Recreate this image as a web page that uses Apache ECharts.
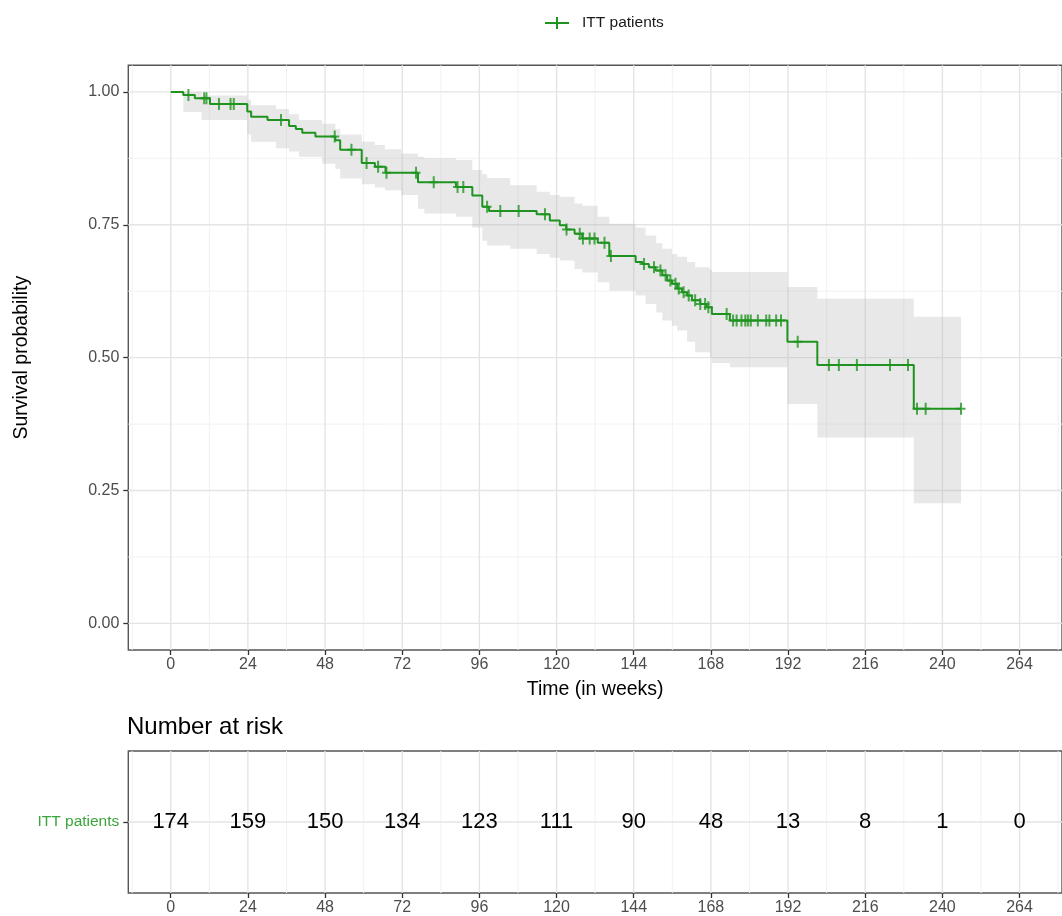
<!DOCTYPE html>
<html><head><meta charset="utf-8">
<script src="https://cdn.jsdelivr.net/npm/echarts/dist/echarts.min.js"></script>
<style>html,body{margin:0;padding:0;background:#fff}#c{width:1062px;height:916px}</style>
</head><body><div id="c"></div>
<script>
const seriesName = 'ITT patients';
// Kaplan-Meier step curve (time in weeks, survival after the step)
const stepTimes = [0, 3.9, 7.5, 12.2, 23.8, 25.0, 30.1, 36.8, 38.9, 40.9, 45.0, 51.2, 52.7, 59.4, 63.5, 66.8, 76.9, 88.7, 93.8, 96.9, 99.0, 113.8, 117.9, 121.0, 123.0, 125.6, 128.0, 132.8, 136.4, 144.6, 146.7, 148.7, 150.8, 152.9, 154.4, 155.9, 157.5, 159.0, 160.6, 162.1, 164.7, 166.7, 168.3, 173.9, 191.8, 201.1, 231.1, 245.8];
const stepSurv  = [1.0, 0.994, 0.988, 0.977, 0.963, 0.953, 0.947, 0.936, 0.930, 0.923, 0.916, 0.909, 0.891, 0.866, 0.859, 0.848, 0.830, 0.821, 0.805, 0.784, 0.776, 0.770, 0.758, 0.749, 0.741, 0.733, 0.724, 0.716, 0.691, 0.680, 0.676, 0.670, 0.664, 0.655, 0.645, 0.639, 0.630, 0.623, 0.617, 0.608, 0.601, 0.595, 0.582, 0.570, 0.530, 0.486, 0.404, 0.404];
// censoring times (weeks)
const censorTimes = [5.5, 10.4, 11.1, 15.0, 18.6, 19.6, 34.3, 51.0, 56.2, 60.9, 64.5, 67.1, 76.3, 81.8, 89.2, 91.0, 98.4, 102.5, 108.2, 116.4, 123.1, 127.2, 128.2, 130.3, 131.8, 134.9, 136.9, 147.2, 150.3, 152.3, 153.9, 155.4, 157.0, 158.0, 159.5, 161.1, 163.1, 164.7, 166.2, 167.2, 172.9, 174.9, 176.0, 177.5, 178.7, 179.5, 180.4, 182.6, 185.2, 186.2, 188.3, 189.8, 195.0, 204.7, 207.8, 213.4, 223.7, 229.3, 232.1, 234.8, 245.8];
// confidence band (step function)
const bandTimes = [0, 3.9, 9.6, 23.8, 25.0, 32.7, 36.8, 39.9, 47.1, 51.2, 52.7, 59.4, 63.5, 66.6, 71.7, 76.9, 78.9, 88.7, 93.8, 96.9, 98.4, 105.6, 113.8, 117.9, 121.0, 125.6, 128.0, 132.8, 136.4, 144.6, 147.7, 151.0, 152.9, 155.9, 157.5, 160.6, 163.1, 167.7, 168.3, 173.9, 191.8, 201.1, 231.1, 245.8];
const bandLower = [1.0, 0.962, 0.947, 0.920, 0.906, 0.894, 0.888, 0.878, 0.865, 0.855, 0.837, 0.826, 0.820, 0.815, 0.806, 0.780, 0.771, 0.765, 0.745, 0.720, 0.711, 0.705, 0.695, 0.688, 0.683, 0.667, 0.660, 0.642, 0.626, 0.617, 0.601, 0.585, 0.570, 0.560, 0.551, 0.530, 0.510, 0.500, 0.490, 0.482, 0.413, 0.350, 0.226, 0.226];
const bandUpper = [1.0, 1.0, 0.993, 0.985, 0.975, 0.968, 0.958, 0.947, 0.940, 0.930, 0.920, 0.906, 0.900, 0.892, 0.884, 0.878, 0.875, 0.872, 0.853, 0.845, 0.838, 0.8245, 0.812, 0.806, 0.8025, 0.790, 0.786, 0.765, 0.752, 0.745, 0.730, 0.715, 0.705, 0.695, 0.690, 0.680, 0.670, 0.665, 0.661, 0.661, 0.633, 0.611, 0.577, 0.577];
// axes
const xTicks = [0, 24, 48, 72, 96, 120, 144, 168, 192, 216, 240, 264];
const xMinor = [-12, 12, 36, 60, 84, 108, 132, 156, 180, 204, 228, 252, 276];
const yTicks = [0, 0.25, 0.5, 0.75, 1.0];
const yMinor = [0.125, 0.375, 0.625, 0.875];
// number at risk table
const riskTimes = [0, 24, 48, 72, 96, 120, 144, 168, 192, 216, 240, 264];
const riskCounts = [174, 159, 150, 134, 123, 111, 90, 48, 13, 8, 1, 0];

const GREEN = '#1f931f';
const LABEL_GREEN = '#3aa53a';
const FONT = '"Liberation Sans", Arial, sans-serif';
const XMIN = -13.2, XMAX = 277.2;

function survAt(t) {
  let s = stepSurv[0];
  for (let i = 0; i < stepTimes.length; i++) { if (stepTimes[i] <= t + 1e-9) s = stepSurv[i]; }
  return s;
}

function vline(color, width) {
  return function (params, api) {
    const x = api.coord([api.value(0), api.value(1)])[0];
    const cs = params.coordSys;
    return { type: 'line', shape: { x1: x, y1: cs.y, x2: x, y2: cs.y + cs.height }, style: { stroke: color, lineWidth: width } };
  };
}
function hline(color, width) {
  return function (params, api) {
    const y = api.coord([api.value(0), api.value(1)])[1];
    const cs = params.coordSys;
    return { type: 'line', shape: { x1: cs.x, y1: y, x2: cs.x + cs.width, y2: y }, style: { stroke: color, lineWidth: width } };
  };
}

const MAJ = '#e4e4e4', MIN = '#f2f2f2';
const chart = echarts.init(document.getElementById('c'), null, { renderer: 'canvas' });

const plusIcon = 'path://M0,5H9V7H0Z M3.5,0H5.5V12H3.5Z';
const legendIcon = 'path://M0,5H24V7H0Z M11,0H13V12H11Z';
const tickStyle = { show: true, length: 5, lineStyle: { color: '#333', width: 1.3 } };

const option = {
  animation: false,
  backgroundColor: '#fff',
  textStyle: { fontFamily: FONT },
  title: {
    text: 'Number at risk', left: 127, top: 715, padding: 0,
    textStyle: { fontSize: 24, fontWeight: 'normal', color: '#000', fontFamily: FONT }
  },
  legend: {
    data: [{ name: seriesName, icon: legendIcon }],
    left: 545, top: 15, padding: 0,
    itemWidth: 24, itemHeight: 12,
    textStyle: { fontSize: 15.5, color: '#1a1a1a', fontFamily: FONT, padding: [0, 0, 0, 8] }
  },
  grid: [
    { left: 128.3, top: 65.3, width: 942.6, height: 584.7, show: true, borderColor: '#555', borderWidth: 1.4, backgroundColor: '#fff' },
    { left: 128.3, top: 751, width: 942.6, height: 142, show: true, borderColor: '#555', borderWidth: 1.4, backgroundColor: '#fff' }
  ],
  xAxis: [
    {
      type: 'value', gridIndex: 0, min: XMIN, max: XMAX,
      name: 'Time (in weeks)', nameLocation: 'middle', nameGap: 30,
      nameTextStyle: { fontSize: 19.5, color: '#000', fontFamily: FONT },
      axisLine: { show: false, onZero: false }, splitLine: { show: false },
      axisTick: Object.assign({ customValues: xTicks }, tickStyle),
      axisLabel: { customValues: xTicks, fontSize: 16, color: '#4d4d4d', margin: 7, fontFamily: FONT }
    },
    {
      type: 'value', gridIndex: 1, min: XMIN, max: XMAX,
      axisLine: { show: false, onZero: false }, splitLine: { show: false },
      axisTick: Object.assign({ customValues: riskTimes }, tickStyle),
      axisLabel: { customValues: riskTimes, fontSize: 16, color: '#4d4d4d', margin: 7, fontFamily: FONT }
    }
  ],
  yAxis: [
    {
      type: 'value', gridIndex: 0, min: -0.05, max: 1.05,
      name: 'Survival probability', nameLocation: 'middle', nameGap: 97, nameRotate: 90,
      nameTextStyle: { fontSize: 19.5, color: '#000', fontFamily: FONT },
      axisLine: { show: false, onZero: false }, splitLine: { show: false },
      axisTick: Object.assign({ customValues: yTicks }, tickStyle),
      axisLabel: { customValues: yTicks, fontSize: 16, color: '#4d4d4d', margin: 9, fontFamily: FONT, formatter: v => v.toFixed(2) }
    },
    {
      type: 'value', gridIndex: 1, min: 0.4, max: 1.6,
      axisLine: { show: false, onZero: false }, splitLine: { show: false },
      axisTick: Object.assign({ customValues: [1] }, tickStyle),
      axisLabel: { customValues: [1], fontSize: 15.5, color: LABEL_GREEN, margin: 9, fontFamily: FONT, formatter: () => seriesName }
    }
  ],
  series: [
    { type: 'custom', name: 'minorX', xAxisIndex: 0, yAxisIndex: 0, z: 1, silent: true, renderItem: vline(MIN, 1), data: xMinor.map(v => [v, 0]) },
    { type: 'custom', name: 'minorY', xAxisIndex: 0, yAxisIndex: 0, z: 1, silent: true, renderItem: hline(MIN, 1), data: yMinor.map(v => [0, v]) },
    { type: 'custom', name: 'majorX', xAxisIndex: 0, yAxisIndex: 0, z: 1, silent: true, renderItem: vline(MAJ, 1.4), data: xTicks.map(v => [v, 0]) },
    { type: 'custom', name: 'majorY', xAxisIndex: 0, yAxisIndex: 0, z: 1, silent: true, renderItem: hline(MAJ, 1.4), data: yTicks.map(v => [0, v]) },
    { type: 'custom', name: 'rminorX', xAxisIndex: 1, yAxisIndex: 1, z: 1, silent: true, renderItem: vline(MIN, 1), data: xMinor.map(v => [v, 1]) },
    { type: 'custom', name: 'rmajorX', xAxisIndex: 1, yAxisIndex: 1, z: 1, silent: true, renderItem: vline(MAJ, 1.4), data: xTicks.map(v => [v, 1]) },
    { type: 'custom', name: 'rmajorY', xAxisIndex: 1, yAxisIndex: 1, z: 1, silent: true, renderItem: hline(MAJ, 1.4), data: [[0, 1]] },
    {
      type: 'custom', name: 'band', xAxisIndex: 0, yAxisIndex: 0, z: 2, silent: true,
      data: [[0, 1]],
      renderItem: function (params, api) {
        const pts = [];
        const n = bandTimes.length;
        for (let i = 0; i < n - 1; i++) {
          pts.push(api.coord([bandTimes[i], bandUpper[i]]));
          pts.push(api.coord([bandTimes[i + 1], bandUpper[i]]));
        }
        for (let i = n - 2; i >= 0; i--) {
          pts.push(api.coord([bandTimes[i + 1], bandLower[i]]));
          pts.push(api.coord([bandTimes[i], bandLower[i]]));
        }
        return { type: 'polygon', shape: { points: pts }, style: { fill: 'rgba(180,180,180,0.3)' } };
      }
    },
    {
      type: 'line', name: seriesName, xAxisIndex: 0, yAxisIndex: 0, z: 3,
      step: 'end', showSymbol: false, symbol: 'none',
      lineStyle: { color: GREEN, width: 2 }, itemStyle: { color: GREEN },
      data: stepTimes.map((t, i) => [t, stepSurv[i]])
    },
    {
      type: 'scatter', name: 'censor', xAxisIndex: 0, yAxisIndex: 0, z: 4,
      symbol: plusIcon, symbolSize: [9, 12], itemStyle: { color: GREEN },
      data: censorTimes.map(t => [t, survAt(t)])
    },
    {
      type: 'custom', name: 'risk', xAxisIndex: 1, yAxisIndex: 1, z: 4, silent: true,
      data: riskTimes.map((t, i) => [t, 1, riskCounts[i]]),
      renderItem: function (params, api) {
        const p = api.coord([api.value(0), api.value(1)]);
        return {
          type: 'text', x: p[0], y: p[1],
          style: { text: String(api.value(2)), fill: '#000', font: '22px ' + FONT, align: 'center', verticalAlign: 'middle' }
        };
      }
    }
  ]
};
chart.setOption(option);
</script>
</body></html>
